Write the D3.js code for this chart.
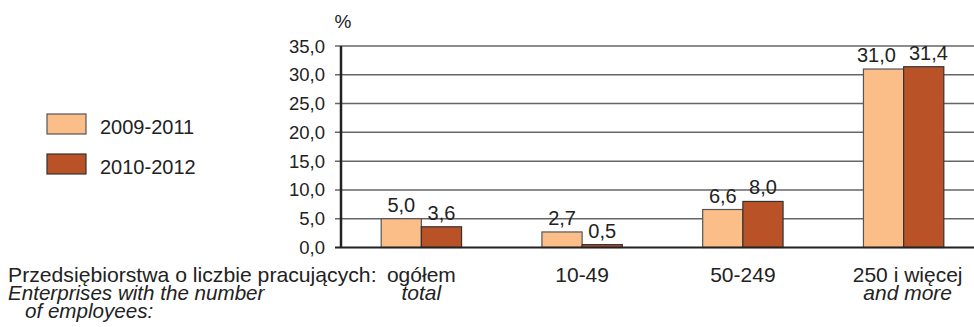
<!DOCTYPE html>
<html>
<head>
<meta charset="utf-8">
<script src="https://cdn.jsdelivr.net/npm/d3@7"></script>
<style>
  body { margin: 0; background: #fff; }
  svg { display: block; font-family: "Liberation Sans", Arial, sans-serif; }
</style>
</head>
<body>
<div id="chart"></div>
<script>
// data
var categories = ["ogółem", "10-49", "50-249", "250 i więcej"];
var categoriesEn = ["total", "", "", "and more"];
var seriesNames = ["2009-2011", "2010-2012"];
var values0911 = [5.0, 2.7, 6.6, 31.0];
var values1012 = [3.6, 0.5, 8.0, 31.4];
var yTicks = [0, 5, 10, 15, 20, 25, 30, 35];

var colors = ["#fbbe89", "#b95327"];
var textColor = "#222";

var width = 974, height = 327;
var margin = { top: 46, right: -10, bottom: 79.5, left: 341 };

var svg = d3.select("#chart")
  .append("svg")
    .attr("width", width)
    .attr("height", height);

var x = d3.scaleBand()
  .domain(categories)
  .range([margin.left, width - margin.right])
  .paddingInner(0.5)
  .paddingOuter(0.25);

var x1 = d3.scaleBand()
  .domain(seriesNames)
  .range([0, x.bandwidth()]);

var y = d3.scaleLinear()
  .domain([0, 35])
  .range([height - margin.bottom, margin.top]);

var fmt = function(v){ return d3.format(".1f")(v).replace(".", ","); };

// text that is a bit wider than the font (reference is stretched horizontally)
function wideText(sel, tx, ty, sx){
  return sel.append("text")
    .attr("transform", "translate(" + tx + "," + ty + ") scale(" + sx + ",1)");
}

// gridlines
svg.append("g")
  .selectAll("line")
  .data(yTicks.filter(function(d){ return d > 0; }))
  .join("line")
    .attr("x1", margin.left - 6)
    .attr("x2", width)
    .attr("y1", function(d){ return y(d); })
    .attr("y2", function(d){ return y(d); })
    .style("stroke", "#666")
    .style("stroke-width", 1.5);

// tick labels
yTicks.forEach(function(t){
  svg.append("text")
    .attr("x", margin.left - 16)
    .attr("y", y(t) + 6.5)
    .attr("text-anchor", "end")
    .style("font-size", "18.5px")
    .style("fill", textColor)
    .text(fmt(t));
});

// unit
svg.append("text")
  .attr("x", margin.left + 2)
  .attr("y", 28)
  .attr("text-anchor", "middle")
  .style("font-size", "19px")
  .style("fill", textColor)
  .text("%");

// bars
var series = [values0911, values1012];
var groups = svg.append("g").selectAll("g")
  .data(categories)
  .join("g")
    .attr("transform", function(d){ return "translate(" + x(d) + ",0)"; });

series.forEach(function(vals, s){
  groups.append("rect")
    .attr("x", x1(seriesNames[s]))
    .attr("y", function(d, i){ return y(vals[i]); })
    .attr("width", x1.bandwidth())
    .attr("height", function(d, i){ return y(0) - y(vals[i]); })
    .style("fill", colors[s])
    .style("stroke", s == 0 ? "#555" : "#333")
    .style("stroke-width", 1.2);
});

// value labels, pushed apart when the pair would touch
categories.forEach(function(c, i){
  var labels = series.map(function(vals, s){
    return svg.append("text")
      .attr("x", x(c) + x1(seriesNames[s]) + x1.bandwidth() / 2)
      .attr("y", y(vals[i]) - 7)
      .attr("text-anchor", "middle")
      .style("font-size", "20px")
      .style("fill", textColor)
      .text(fmt(vals[i]));
  });
  var b0 = labels[0].node().getBBox(), b1 = labels[1].node().getBBox();
  var gap = b1.x - (b0.x + b0.width);
  if (gap < 12) {
    var need = 13 - gap;
    labels[0].attr("x", +labels[0].attr("x") - need * 0.6);
    labels[1].attr("x", +labels[1].attr("x") + need * 0.4);
  }
});

// axes lines
svg.append("line")
  .attr("x1", margin.left - 6).attr("x2", width)
  .attr("y1", y(0)).attr("y2", y(0))
  .style("stroke", "#222").style("stroke-width", 2);
svg.append("line")
  .attr("x1", margin.left).attr("x2", margin.left)
  .attr("y1", y(35)).attr("y2", y(0))
  .style("stroke", "#222").style("stroke-width", 2.5);

// category labels
categories.forEach(function(c, i){
  var cx = x(c) + x.bandwidth() / 2 + (i == 3 ? 4 : 0);
  wideText(svg, cx, 282, 1.05)
    .attr("text-anchor", "middle")
    .style("font-size", "20px")
    .style("fill", textColor)
    .text(c);
  if (categoriesEn[i]) {
    wideText(svg, cx, 300, 1.05)
      .attr("text-anchor", "middle")
      .style("font-size", "20px")
      .style("font-style", "italic")
      .style("fill", textColor)
      .text(categoriesEn[i]);
  }
});

// axis title
wideText(svg, 8, 282, 1.06)
  .style("font-size", "20px")
  .style("fill", textColor)
  .text("Przedsiębiorstwa o liczbie pracujących:");
wideText(svg, 8, 300, 1.03)
  .style("font-size", "20px")
  .style("font-style", "italic")
  .style("fill", textColor)
  .text("Enterprises with the number");
wideText(svg, 25, 318, 1.03)
  .style("font-size", "20px")
  .style("font-style", "italic")
  .style("fill", textColor)
  .text("of employees:");

// legend
var legend = svg.append("g").selectAll("g")
  .data(seriesNames)
  .join("g")
    .attr("transform", function(d, i){ return "translate(47," + (114 + i * 40) + ")"; });
legend.append("rect")
  .attr("width", 39)
  .attr("height", 20)
  .style("fill", function(d, i){ return colors[i]; })
  .style("stroke", function(d, i){ return i == 0 ? "#555" : "#333"; })
  .style("stroke-width", 1.2);
legend.append("text")
  .attr("x", 53)
  .attr("y", 19.5)
  .style("font-size", "20px")
  .style("fill", textColor)
  .text(function(d){ return d; });
</script>
</body>
</html>
